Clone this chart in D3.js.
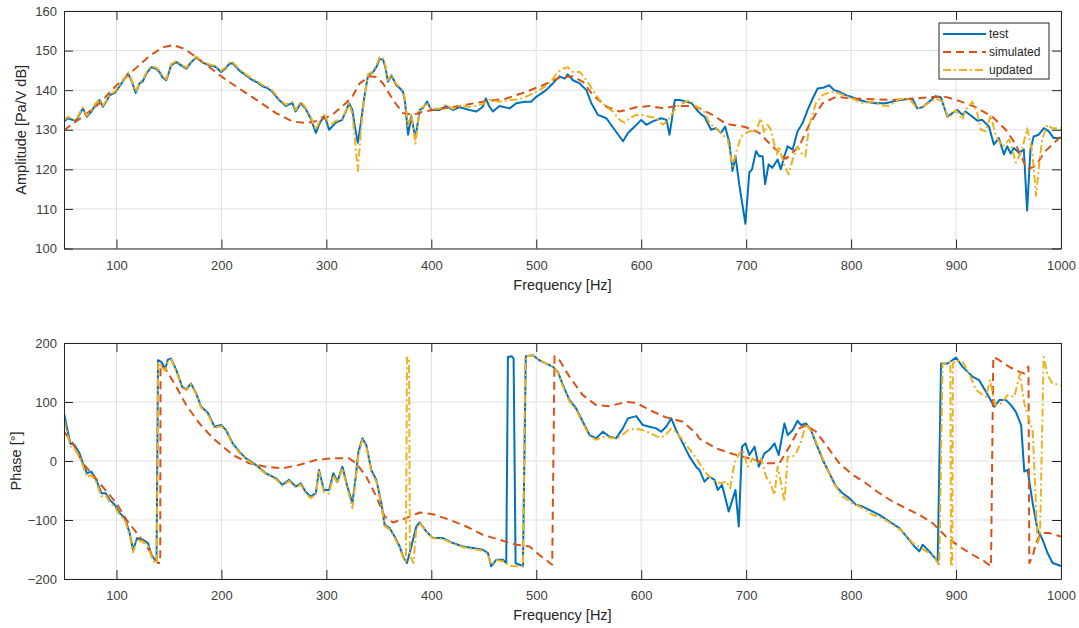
<!DOCTYPE html>
<html>
<head>
<meta charset="utf-8">
<script src="https://cdn.jsdelivr.net/npm/d3@7"></script>
<style>
  body { margin: 0; background: #fff; }
  svg { display: block; font-family: "Liberation Sans", Arial, sans-serif; }
</style>
</head>
<body>
<svg id="chart" width="1079" height="628"></svg>
<script>
// tick labels
const freqTicks = [100, 200, 300, 400, 500, 600, 700, 800, 900, 1000];
const ampTicks = [100, 110, 120, 130, 140, 150, 160];
const phaseTicks = [-200, -100, 0, 100, 200];
const seriesNames = ['test', 'simulated', 'updated'];

// amplitude [Pa/V dB], pairs of [Hz, value]
const testAmp = [[50,132.1],[53.8,132.9],[57,132.6],[61.7,132.3],[65,134],[68,135.4],[71.9,133.3],[76,134.5],[80,136.4],[84,137.5],[87,135.8],[90,137],[93.6,138.75],[98.4,139.3],[103,141],[107,142.6],[111,144.2],[114.2,142.5],[118.3,139.3],[122,141.7],[125,142.2],[128.5,144.2],[133.2,145.8],[138,145.4],[141,144.6],[144,143.2],[147.4,142.5],[150,144.5],[152,146.25],[157,147.1],[161.7,146.25],[166.5,145.4],[171,147],[176,148.3],[182,147],[188.6,146.25],[194,146],[199.7,144.6],[204,145.5],[207.6,146.7],[210.8,146.8],[217,145],[223.4,143.75],[229.7,142.5],[234,142],[239,141],[244,140.5],[248.6,139.6],[255,137.5],[261.3,136],[265,136.5],[267.7,136.7],[270.8,134.6],[275.6,136.7],[280,135.4],[285,132.9],[290,129.2],[293,131.25],[297,133.3],[299,133],[302.6,130],[309,131.8],[315,132.5],[318.5,134.6],[321.6,136.7],[324.8,135],[327,131],[330,126.7],[333,132],[336,138],[339.7,143.75],[344.5,144.6],[348,146],[350.8,147.9],[354,147.7],[356,146],[358.7,142.1],[361.9,143.75],[366.7,141.25],[370,140.5],[373,139.6],[375,137],[377.8,128.75],[381,133.3],[384.8,127.9],[389,135],[392,135.5],[396,137.1],[400,135],[408,135],[414,136],[420.6,135],[427,135.7],[436.5,135],[443,134.6],[449,135.8],[452,137.9],[455,136],[458.7,134.6],[465,136],[474.6,135.4],[481,136.7],[489,137.1],[495,137.1],[500,138.3],[509.4,140],[515.8,141.7],[522,143.5],[527,142.9],[530,144],[535,142.5],[541.4,141.7],[547.8,140],[552.5,136.7],[558.8,133.75],[566.8,132.9],[574.7,130],[582.7,127.1],[587.4,129.2],[593.8,130.8],[600,132.5],[604.8,131.25],[611,132.1],[619,132.9],[624,132.5],[627,128.75],[632,137.5],[636.7,137.5],[643,137.1],[648,136.7],[653,135],[657.6,133.75],[660.3,133.3],[666.6,130],[671.3,130.4],[676,129.2],[680,130.8],[684,126.7],[687,119.6],[689.8,123.3],[693.6,115.8],[699.3,106.25],[703,119.2],[705.6,120],[709.4,124.6],[712.5,123.3],[715.7,123.3],[718,116.25],[721.4,121.25],[725,120.4],[730,122.5],[733,120],[736.4,123.3],[739.5,125.8],[744.3,125],[749,129.6],[753.8,131.7],[758.6,135],[763.4,137.9],[768,140.4],[774.4,140.7],[779,141.25],[784,140],[788.6,139.6],[795,138.75],[801,138.2],[807.6,137.5],[814,137.1],[823.5,136.7],[833,136.7],[842.5,137.3],[852,137.7],[858.4,137.9],[863,135.4],[868,135.7],[874.3,137.1],[880.6,138.5],[885.4,138.2],[891.7,133.3],[896.5,134.2],[901.3,135],[906,133.75],[909,134.6],[915.6,133.3],[920.3,132.3],[925,132.5],[931.4,130.8],[936,126.25],[940.8,127.9],[945.6,123.75],[948.8,125.8],[952,124],[955,125.4],[959.8,124.2],[964.6,125],[967.7,109.6],[970.9,125],[974,128.3],[978.8,128.75],[983.6,130.4],[988.4,129.6],[993,127.9],[1000,127.9]];
const simAmp = [[50,129.8],[58,131.5],[68,133.3],[84,136.7],[98.4,140.8],[116,145],[132,148.75],[144,150.8],[154,151.4],[165,150.4],[176,148.3],[188.6,145.8],[199.7,143.5],[217,140.4],[236,137.1],[252,134.2],[267.7,132.1],[280,131.7],[293,132.3],[305.7,133.75],[318.5,136.7],[325,138.5],[331.7,141.7],[341.2,143.5],[347.6,143.3],[354,141.7],[363.5,137.5],[373,134.2],[382.6,133.75],[392,134.6],[408,135.2],[427,136],[449,137.1],[471.5,137.9],[490.5,139.6],[506.4,141.25],[522.3,143.2],[535,143.5],[544.5,142.1],[554,138.75],[567,135.8],[579.5,134.6],[595.4,135.7],[608,136],[621,135.4],[633.5,136],[646,136],[655.5,135.4],[668,133.75],[681,131.5],[699.3,130.7],[712.5,129.2],[725,125.8],[738,122.7],[750.5,125.8],[760,131.25],[772.8,136.7],[785.5,138.3],[801,137.9],[820,137.7],[839.4,137.5],[861.6,137.9],[877.5,138.3],[890,138.3],[903,137.3],[918.7,135.7],[934.6,133.3],[947.3,130],[957,126.25],[967.7,120],[975.6,120.8],[985,124.6],[1000,128.3]];
const updAmp = [[50,132.5],[53.8,133.3],[57,132.8],[61.7,132.5],[65,134.3],[68,135.6],[71.9,133.6],[76,134.8],[80,136.6],[84,137.7],[87,136.1],[90,137.2],[93.6,138.9],[98.4,139.6],[103,141.3],[107,142.8],[111,144.5],[114.2,142.8],[118.3,139.6],[122,142],[125,142.5],[128.5,144.5],[133.2,146],[138,145.7],[141,144.9],[144,143.5],[147.4,142.8],[150,144.8],[152,146.5],[157,147.4],[161.7,146.5],[166.5,145.7],[171,147.3],[176,148.5],[182,147.2],[188.6,146.5],[194,146.2],[199.7,144.9],[204,145.8],[207.6,147],[210.8,147.1],[217,145.3],[223.4,144],[229.7,142.8],[234,142.3],[239,141.3],[244,140.8],[248.6,139.9],[255,137.8],[261.3,136.3],[265,136.8],[267.7,137],[270.8,135],[275.6,137],[280,135.7],[285,133.3],[290,130],[293,131.8],[297,134],[299,133.5],[302.6,131],[309,132.2],[315,132.8],[318.5,134.8],[321.6,136.7],[324.8,134],[327,128],[330,119.6],[333,130],[336,138],[339.7,144],[344.5,144.8],[348,146.5],[350.8,148.3],[354,148],[356,146.5],[358.7,142.5],[361.9,144],[366.7,141.5],[370,140.8],[373,140],[375,137.5],[377.8,131],[381,134],[384.8,126.5],[389,135.3],[392,135.8],[396,136.5],[400,135.3],[408,135.3],[414,136.3],[420.6,135.3],[427,136],[436.5,135.8],[443,136],[449,136.5],[455,137.5],[465,137.1],[474.6,137.5],[484,137.7],[493.6,138.75],[503,140],[512.6,141.7],[520.6,144.6],[525.4,145.4],[530,145.8],[535,144.6],[541.4,144.6],[547.8,142.5],[554,140],[560.4,137.5],[566.8,135.8],[573,134.6],[579.5,132.5],[584,131.8],[589,132.9],[595.4,133.75],[601.7,133.75],[608,133.3],[614.4,132.9],[620.7,131.25],[627,132.9],[633.5,135.8],[640,136.7],[646,137.5],[653,135.8],[659,135],[665,131.7],[674.5,129.6],[682.4,127.5],[687,120.8],[690.4,124.2],[695,128.3],[703,129.6],[709.4,129.6],[714,132.9],[717.3,129.2],[720.4,131.25],[723.6,130],[729,123.75],[731.5,125.8],[736.4,120.8],[740.5,118.75],[744.3,122.5],[749,125.8],[752.3,124.2],[756.4,123.3],[760.2,131.25],[766.5,136.7],[772.8,138.75],[780.7,139.6],[788.6,139.2],[801,137.9],[811,136.7],[820,137.1],[828,136.25],[836,136],[845.6,137.7],[855,137.9],[863,135.4],[871,136.25],[880.6,137.9],[887,137.1],[892.7,132.9],[899.7,135],[906,132.5],[909,135],[915.6,137.1],[920.3,134.2],[923.5,130],[928.3,129.6],[933,133.75],[938,128.3],[944.3,125.8],[950.6,127.5],[957,121.7],[962.6,124.6],[967.7,130.4],[972.5,124.6],[976.3,113.3],[979,120.8],[982,127.5],[986.8,131.25],[991.5,130.4],[1000,130.4]];

// phase [deg], pairs of [Hz, value]
const testPh = [[50,80.6],[52,63.7],[56,29.9],[60,27.1],[64.8,13],[68,-3.9],[71.9,-20.8],[76,-18],[80.8,-32],[85.6,-54.6],[89.7,-54.6],[93.6,-65.9],[98.4,-74.3],[103.2,-88.4],[108,-96.9],[112.6,-122.2],[115.8,-150.4],[119.7,-130.7],[125.4,-133.5],[130,-139.1],[133.2,-158.9],[136.4,-167.3],[138.2,-168],[139.6,170.8],[142.7,168],[146.5,156.7],[149,171.9],[152,173.6],[157,153.9],[162.6,125.7],[166.5,121.2],[171,131.3],[176,114.4],[180.7,91.9],[187,81.8],[193.4,58],[199.7,60.9],[204.4,52.4],[210.8,29.9],[217,15.8],[223.4,4.5],[232.8,-6.7],[242.4,-20.8],[252,-29.3],[258,-40.5],[264.5,-32],[270.8,-43.3],[275.6,-37.7],[280,-51.8],[285,-60.3],[290,-54.6],[293,-15.2],[297.6,-49],[302.6,-49],[306.7,-20.8],[310.5,-34.9],[315.3,-9.6],[320,-43.3],[324.8,-71.5],[328,-26.4],[330.5,15],[334.3,38.4],[338,27.1],[342.8,-15.2],[347.6,-32],[352.4,-71.5],[355.5,-108.1],[360.3,-113.8],[365,-127.9],[369.8,-144.8],[373,-161.7],[376.8,-173],[381,-144.8],[385.7,-111],[389,-104.2],[395.2,-119.4],[401.6,-130.7],[411,-130.7],[420.6,-139.1],[430,-144.8],[439.7,-147.6],[449,-150.4],[454,-156],[457,-178.6],[462,-167.3],[468.2,-167.3],[471.4,-173],[473,176.4],[476.8,177.5],[478.4,173.6],[480.3,-173],[484,-175.8],[487.3,-178.6],[490,177.5],[496.8,179.2],[503,170.8],[509.5,165.2],[516,159.5],[520.6,151],[525.4,128.5],[531.7,103.2],[538,89],[544.4,66.5],[550.8,44],[557,38.4],[563.5,49.6],[569.8,41.2],[576,38.4],[582.5,55.3],[587.3,72.2],[595.2,76.1],[601.6,60.9],[608,58.1],[614.3,55.3],[619,49.6],[623.8,58.1],[628.6,72.2],[633.3,52.4],[639.7,29.9],[646,7.4],[652.3,-9.6],[655.5,-15.2],[660.3,-34.9],[665,-26.4],[669.8,-32],[673,-49],[677,-40.5],[683.4,-85.6],[689.8,-49],[693,-111],[696,24.3],[699.3,29.9],[703,10.2],[708,24.3],[712,-9.6],[717.4,13],[722,18.6],[727,29.9],[731,10.2],[736.5,63.7],[739.6,44],[744.4,52.4],[749,68.2],[752.3,60.9],[757,63.7],[761.8,52.4],[766.6,29.9],[773,1.7],[779.3,-20.8],[785.6,-43.3],[792,-54.6],[798.4,-63.1],[804.7,-74.3],[811,-77.2],[817.4,-82.8],[827,-91.2],[836.5,-102.5],[846,-113.8],[854,-130.7],[860.3,-144.8],[865,-153.2],[868.2,-142],[874.5,-153.2],[882.5,-170.1],[885.7,165.2],[892,165.2],[900,175.3],[906.3,159.5],[916,142.6],[922,137],[928.5,117.3],[936.5,91.9],[941.2,103.2],[947.6,103.2],[952.3,94.7],[957,83.4],[962,60.9],[965,-18],[968.2,-15.2],[973,-71.5],[977.7,-116.6],[982.5,-133.5],[987.2,-156],[992,-173],[996.8,-175.8],[1000,-178]];
const simPh = [[50,49.6],[58.6,29.9],[68,-3.9],[84,-37.7],[100,-71.5],[109.5,-99.7],[122,-127.9],[132,-153.2],[139.6,-173],[141.7,-173],[142,163],[147.5,153.9],[157,125.7],[166.5,94.7],[179,63.7],[192,38.4],[211,10.2],[226.5,-3.9],[242.4,-9.6],[258,-12.4],[274,-6.7],[290,1.7],[305.7,4.5],[321.6,4.5],[328.5,-3.9],[338,-26.4],[347.6,-60.3],[355.5,-94],[363.5,-104.2],[376,-96.9],[389,-87.3],[401.6,-90.1],[417.4,-99.7],[433.3,-111],[449,-125],[465,-133.5],[481,-142],[493.6,-144.8],[504.7,-161.7],[515.2,-175.8],[517.4,177.5],[522.2,170.8],[531.7,142.6],[544.4,111.6],[557,94.7],[569.8,93],[585.7,100.3],[595.2,98.6],[608,86.3],[623.8,73.9],[639.7,66.5],[652.3,46.8],[655.5,38],[671.4,21.4],[687.2,11.9],[703,4.5],[719,-3.9],[731.7,-3.9],[741.2,24.3],[750.7,55.3],[757,60.9],[766.6,49.6],[776.1,27.1],[788.8,-3.9],[801.5,-23.6],[814.2,-37.7],[827,-54.6],[839.6,-68.7],[852.3,-80],[865,-91.2],[877.7,-105.3],[890.4,-127.9],[903,-144.8],[915.8,-158.9],[927,-170.1],[933.3,-178.6],[935.5,176.4],[941.2,170.8],[950.7,159.5],[960.3,151],[965,148.3],[969,160],[969.8,-173],[973,-161.7],[976.1,-139],[980.9,-122.2],[988.8,-122.2],[1000,-128]];
const updPh = [[50,70],[52,55],[56,25],[60,20],[64.8,8],[68,-8],[71.9,-27],[76,-24],[80.8,-36],[85.6,-60],[89.7,-58],[93.6,-70],[98.4,-78],[103.2,-92],[108,-100],[112.6,-126],[115.8,-155],[119.7,-134],[125.4,-137],[130,-142],[133.2,-162],[136.4,-172],[138.4,-173],[139.8,168],[142.7,160],[146.5,153],[149,169],[152,172],[157,152],[162.6,124],[166.5,120],[171,130],[176,113],[180.7,90],[187,80],[193.4,56],[199.7,59],[204.4,50],[210.8,28],[217,14],[223.4,3],[232.8,-8],[242.4,-22],[252,-31],[258,-42],[264.5,-34],[270.8,-45],[275.6,-40],[280,-54],[285,-63],[290,-57],[293,-18],[297.6,-53],[302.6,-55],[306.7,-24],[310.5,-38],[315.3,-12],[320,-46],[324.8,-80],[328,-30],[330.5,10],[334.3,36],[338,25],[342.8,-18],[347.6,-35],[352.4,-74],[355.5,-110],[360.3,-116],[365,-130],[369.8,-147],[373,-163],[375.8,-170],[376.8,175],[378.8,175],[379.6,-160],[383,-173],[385.7,-115],[389,-105],[395.2,-120],[401.6,-131],[411,-132],[420.6,-140],[430,-146],[439.7,-149],[449,-152],[454,-158],[457,-176],[462,-168],[468.2,-170],[475,-178],[487.3,-178.6],[489.5,177],[496.8,179],[503,171],[509.5,165],[516,160],[520.6,150],[525.4,126],[531.7,101],[538,87],[544.4,64],[550.8,42],[557,36],[563.5,41],[569.8,40],[576,38],[582.5,45],[587.3,52],[595.2,55],[601.6,52],[608,48],[614.3,42],[619,40],[623.8,45],[628.6,55],[633.3,50],[639.7,35],[646,20],[652.3,5],[655.5,-3.9],[661.8,-20.8],[669.8,-34.9],[676.1,-37.7],[681,-34.9],[684.7,-46.2],[688.8,-3.9],[693.6,13],[696.8,18.6],[701.5,-9.6],[706.3,4.5],[711,-3.9],[714.2,4.5],[719,-26.4],[723.7,-40.5],[727,-57.4],[730,-9.6],[733.3,-37.7],[736.5,-68.7],[739.6,7.4],[744.4,7.4],[747.6,13],[752.3,32.7],[757,62.6],[763.4,46.8],[769.8,18.6],[776.1,-9.6],[782.4,-34.9],[792,-60.3],[801.5,-71.5],[811,-80],[820.6,-91.2],[830,-96.9],[839.6,-108.1],[849.2,-119.4],[858.7,-139.1],[866.6,-147.6],[874.5,-156],[880.9,-167.3],[884,-178.6],[887.2,165.2],[892,165.2],[894.6,168],[895.2,-178.6],[896.4,-178],[897,165],[900,170.8],[906.3,168],[912.6,148.3],[919,120.1],[923.7,114.4],[928.5,108.8],[932.3,137],[937.4,94.7],[942.8,97.5],[949,111.6],[955.5,108.8],[960.9,148.3],[965,97.5],[969.8,69.4],[973,52.4],[977.7,-139.1],[980,-127.9],[983.5,176.4],[987.2,145.4],[992,131.3],[1000,128.5]];

const colors = ['#0072BD', '#D95319', '#EDB120'];
const dashes = [null, '8,5', '8,3,2,3'];
const axisColor = '#262626';
const gridColor = '#e0e0e0';

const svg = d3.select('#chart');
const x = d3.scaleLinear().domain([50, 1000]).range([64, 1061]);

function drawPanel(p) {
  const y = d3.scaleLinear().domain(p.domain).range([p.bottom, p.top]);
  const g = svg.append('g');
  const w = x.range()[1] - x.range()[0];
  const h = p.bottom - p.top;

  g.append('rect')
    .attr('x', x.range()[0]).attr('y', p.top)
    .attr('width', w).attr('height', h)
    .attr('fill', '#fff');

  // grid
  g.selectAll('.vg').data(freqTicks).enter().append('line')
    .attr('x1', d => x(d)).attr('x2', d => x(d))
    .attr('y1', p.top).attr('y2', p.bottom)
    .attr('stroke', gridColor).attr('stroke-width', 1);
  g.selectAll('.hg').data(p.ticks).enter().append('line')
    .attr('x1', x.range()[0]).attr('x2', x.range()[1])
    .attr('y1', d => y(d)).attr('y2', d => y(d))
    .attr('stroke', gridColor).attr('stroke-width', 1);

  // lines
  const clipId = 'clip' + p.id;
  svg.append('clipPath').attr('id', clipId).append('rect')
    .attr('x', x.range()[0]).attr('y', p.top - 2)
    .attr('width', w).attr('height', h + 4);
  const line = d3.line().x(d => x(d[0])).y(d => y(d[1]));
  p.series.forEach(function (s, i) {
    g.append('path')
      .attr('d', line(s))
      .attr('clip-path', `url(#${clipId})`)
      .attr('fill', 'none')
      .attr('stroke', colors[i])
      .attr('stroke-width', 2)
      .attr('stroke-linejoin', 'round')
      .attr('stroke-dasharray', dashes[i]);
  });

  // axes with inward ticks on all sides
  const bottomAx = d3.axisBottom(x).tickValues(freqTicks).tickFormat(d3.format('d'))
    .tickSizeInner(-9).tickSizeOuter(0).tickPadding(12);
  const topAx = d3.axisTop(x).tickValues(freqTicks).tickSizeInner(-9).tickSizeOuter(0).tickFormat('');
  const leftAx = d3.axisLeft(y).tickValues(p.ticks).tickFormat(d3.format('d'))
    .tickSizeInner(-9).tickSizeOuter(0).tickPadding(7);
  const rightAx = d3.axisRight(y).tickValues(p.ticks).tickSizeInner(-9).tickSizeOuter(0).tickFormat('');

  const axes = [
    [bottomAx, `translate(0,${p.bottom})`],
    [topAx, `translate(0,${p.top})`],
    [leftAx, `translate(${x.range()[0]},0)`],
    [rightAx, `translate(${x.range()[1]},0)`]
  ];
  axes.forEach(function (a) {
    const ag = g.append('g').attr('transform', a[1]).call(a[0]);
    ag.select('.domain').attr('stroke', axisColor);
    ag.selectAll('.tick line').attr('stroke', axisColor);
    ag.selectAll('.tick text')
      .attr('fill', '#404040')
      .style('font-size', '13px')
      .style('font-family', '"Liberation Sans", Arial, sans-serif');
  });

  g.append('text')
    .attr('x', (x.range()[0] + x.range()[1]) / 2)
    .attr('y', p.bottom + 41)
    .attr('text-anchor', 'middle')
    .attr('fill', '#262626')
    .style('font-size', '14.5px')
    .text('Frequency [Hz]');

  g.append('text')
    .attr('transform', `translate(${p.labelX},${(p.top + p.bottom) / 2}) rotate(-90)`)
    .attr('text-anchor', 'middle')
    .attr('dy', '0.35em')
    .attr('fill', '#262626')
    .style('font-size', '14.5px')
    .text(p.label);
}

drawPanel({ id: 'amp', domain: [100, 160], ticks: ampTicks, top: 11, bottom: 248.5,
  series: [testAmp, simAmp, updAmp], label: 'Amplitude [Pa/V dB]', labelX: 21 });
drawPanel({ id: 'ph', domain: [-200, 200], ticks: phaseTicks, top: 343, bottom: 579,
  series: [testPh, simPh, updPh], label: 'Phase [°]', labelX: 16 });

// legend
const lg = svg.append('g').attr('transform', 'translate(939,23)');
lg.append('rect').attr('width', 110).attr('height', 56)
  .attr('fill', '#fff').attr('stroke', axisColor).attr('stroke-width', 1);
seriesNames.forEach(function (name, i) {
  const yy = 11 + i * 18;
  lg.append('line')
    .attr('x1', 4).attr('x2', 47).attr('y1', yy).attr('y2', yy)
    .attr('stroke', colors[i]).attr('stroke-width', 2)
    .attr('stroke-dasharray', dashes[i]);
  lg.append('text')
    .attr('x', 50).attr('y', yy).attr('dy', '0.35em')
    .attr('fill', '#262626')
    .style('font-size', '12px')
    .text(name);
});
</script>
</body>
</html>
